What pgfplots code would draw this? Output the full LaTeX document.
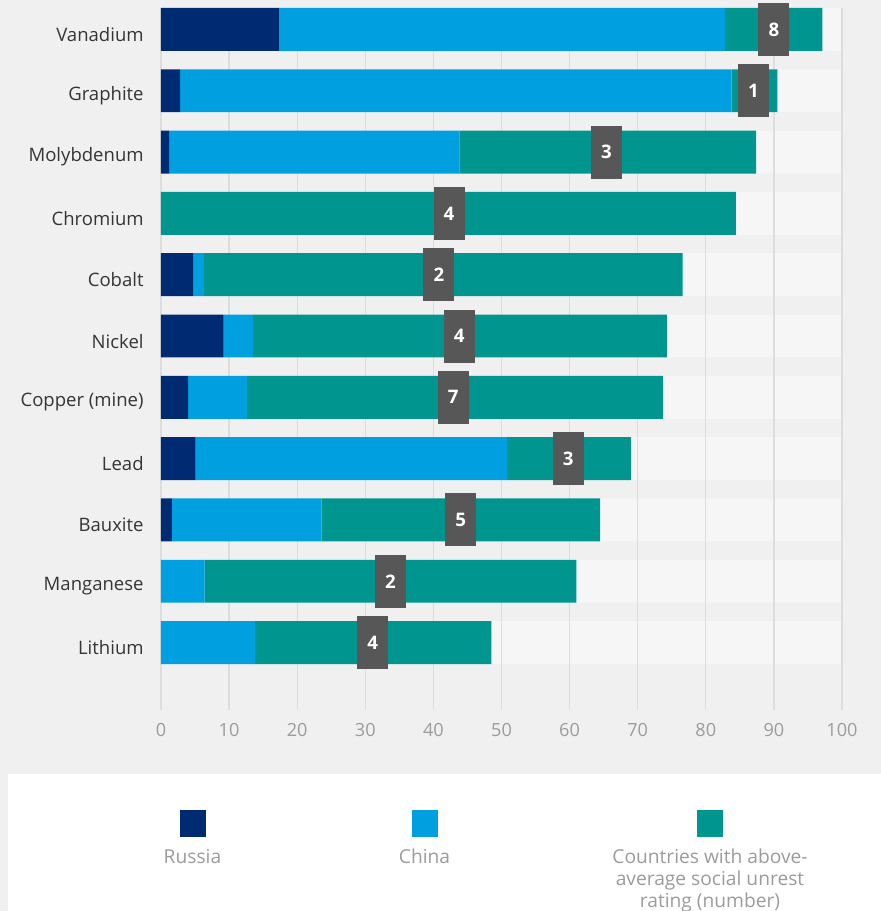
\documentclass[border=0pt]{standalone}
\usepackage{pgfplots}
\pgfplotsset{compat=1.18}
\usepackage{pgfplotstable}
\usepackage{fontspec}
\setmainfont{Open Sans}

\definecolor{bgc}{HTML}{F0F0F0}
\definecolor{bandc}{HTML}{F6F6F6}
\definecolor{gridc}{HTML}{DDDDDD}
\definecolor{russia}{HTML}{002B73}
\definecolor{china}{HTML}{009FE0}
\definecolor{other}{HTML}{00958F}
\definecolor{boxc}{HTML}{575757}
\definecolor{catc}{HTML}{353535}
\definecolor{tickc}{HTML}{9C9C9C}

% share of supply (%), Russia / China / countries with above-average unrest
\pgfplotstableread[col sep=comma]{
name,pos,ru,cn,ot,full,lx,lab
Vanadium,10,17.3,65.5,14.3,100,90.0,8
Graphite,9,2.8,81.0,6.7,100,87.0,1
Molybdenum,8,1.2,42.6,43.6,100,65.4,3
Chromium,7,0,0,84.4,100,42.3,4
Cobalt,6,4.7,1.6,70.3,100,40.8,2
Nickel,5,9.2,4.3,60.8,100,43.8,4
Copper (mine),4,4.0,8.6,61.1,100,42.9,7
Lead,3,5.1,45.7,18.2,100,59.8,3
Bauxite,2,1.6,22.0,40.9,100,44.0,5
Manganese,1,0,6.4,54.6,100,33.7,2
Lithium,0,0,13.8,34.7,100,31.1,4
}\data

\pgfplotsset{
  base/.style={
    at={(120.75pt,150.75pt)}, anchor=south west,
    scale only axis, width=510.75pt, height=526.5pt,
    xmin=0, xmax=100, ymin=-1.1, ymax=10.35,
  },
}

\begin{document}
\begin{tikzpicture}
\useasboundingbox (0,0) rectangle (660.75pt,683.25pt);
\fill[bgc] (0,0) rectangle (660.75pt,683.25pt);

% light bands and grid
\begin{axis}[base,
  axis line style={draw=none}, major tick length=0pt,
  xtick={0,10,...,100}, xticklabels={}, ytick=\empty,
  xmajorgrids, grid style={gridc, line width=1pt},
  axis on top]
  \addplot[xbar, bar width=0.7, fill=bandc, draw=none] table[x=full, y=pos] \data;
\end{axis}

% stacked bars
\begin{axis}[base,
  xbar stacked, bar width=0.7,
  axis line style={draw=none}, major tick length=0pt,
  xtick={0,10,...,100},
  ytick={0,...,10},
  yticklabels={Lithium,Manganese,Bauxite,Lead,{Copper (mine)},Nickel,Cobalt,Chromium,Molybdenum,Graphite,Vanadium},
  /pgf/number format/assume math mode=true,
  xticklabel style={font=\fontsize{13.6}{16}\selectfont, text=tickc, yshift=-6.5pt},
  yticklabel style={font=\fontsize{13.9}{16}\selectfont, text=catc, xshift=-9.5pt, yshift=-3.8pt},
  ]
  \addplot[fill=russia, draw=none] table[x=ru, y=pos] \data;
  \addplot[fill=china, draw=none] table[x=cn, y=pos] \data;
  \addplot[fill=other, draw=none] table[x=ot, y=pos] \data;
\end{axis}

% count labels
\begin{axis}[base, hide axis, clip=false]
  \addplot[draw=none, mark=none, nodes near coords, point meta=explicit symbolic,
    nodes near coords style={anchor=center, fill=boxc, text=white, inner sep=0pt,
      minimum width=23.25pt, minimum height=39.75pt,
      font=\fontsize{14}{16}\selectfont\bfseries}]
    table[x=lx, y=pos, meta=lab] \data;
\end{axis}

% legend
\begin{scope}[x=0.75pt, y=-0.75pt, shift={(0,683.25pt)}]
  \fill[white] (8,774) rectangle (881,911);
  \fill[russia] (179.5,810) rectangle (205.5,837);
  \fill[china] (411.5,810) rectangle (437.5,837);
  \fill[other] (696.5,810) rectangle (722.5,837);
  \begin{scope}[every node/.style={anchor=north, align=center, text=tickc, inner sep=0pt,
      font=\fontsize{14.4}{16.5}\selectfont}]
    \node at (192.5,849) {Russia};
    \node at (424.5,849) {China};
    \node at (710,849) {Countries with above-\\average social unrest\\rating (number)};
  \end{scope}
\end{scope}
\end{tikzpicture}
\end{document}
